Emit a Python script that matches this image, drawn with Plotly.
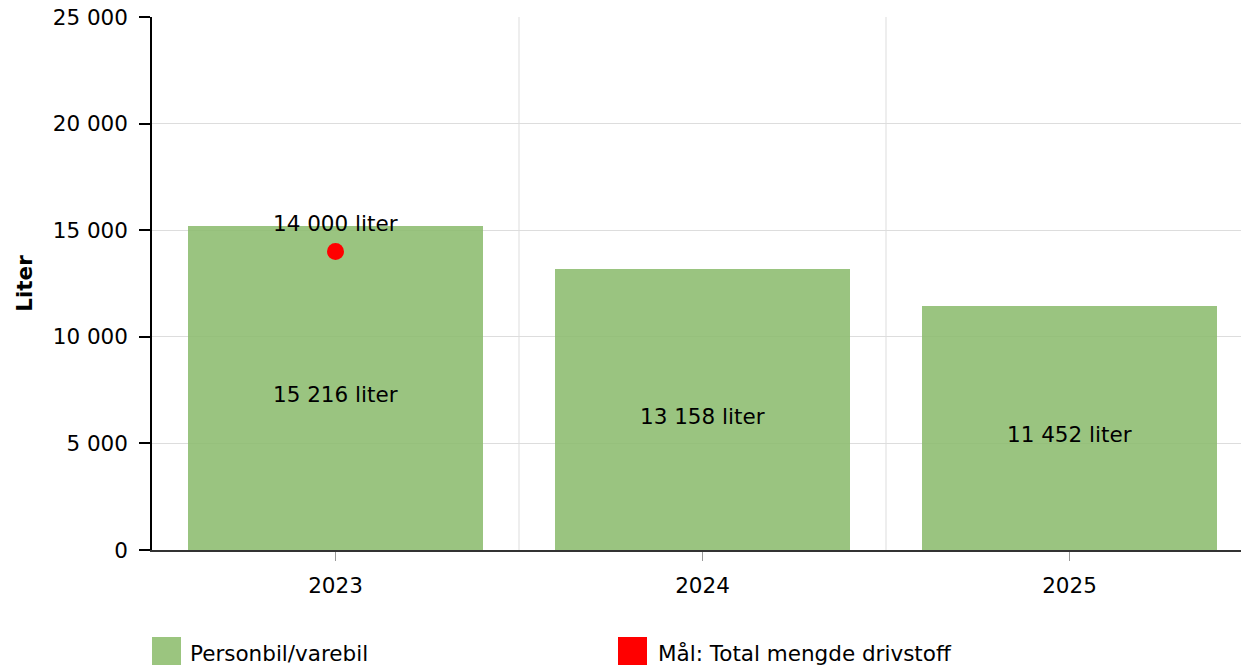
import plotly.graph_objects as go

years = ["2023", "2024", "2025"]
volumes = [15216, 13158, 11452]
target_year = ["2023"]
target_values = [14000]
series_names = ["Personbil/varebil", "Mål: Total mengde drivstoff"]
y_ticks = [0, 5000, 10000, 15000, 20000, 25000]

FONT = "Verdana, DejaVu Sans, sans-serif"
FS = 21.5
BAR_FILL = "rgba(140,188,110,0.88)"
LEGEND_GREEN = "#9BC57F"
RED = "#FF0000"

def fmt(v):
    return f"{v:,.0f}".replace(",", " ") + " liter"

xpos = list(range(len(years)))
tx = [years.index(y) for y in target_year]

fig = go.Figure()
fig.add_trace(go.Bar(
    x=xpos, y=volumes, width=0.804,
    marker=dict(color=BAR_FILL, line=dict(width=0)),
    textposition="none",
    name=series_names[0], showlegend=False,
))
fig.add_trace(go.Scatter(
    x=tx, y=target_values, mode="markers",
    marker=dict(color=RED, size=17),
    name=series_names[1], showlegend=False, cliponaxis=False,
))

annotations = []
for x, v in zip(xpos, volumes):
    annotations.append(dict(xref="x", yref="y", x=x, y=v / 2, text=fmt(v), showarrow=False,
                            xanchor="center", yanchor="middle", yshift=-7,
                            font=dict(family=FONT, size=FS, color="black")))
for x, v in zip(tx, target_values):
    annotations.append(dict(xref="x", yref="y", x=x, y=v, text=fmt(v), showarrow=False,
                            xanchor="center", yanchor="middle", yshift=28,
                            font=dict(family=FONT, size=FS, color="black")))

shapes = []
# vertical gridlines at category boundaries
for i in range(len(years) - 1):
    shapes.append(dict(type="line", xref="x", yref="paper", x0=i + 0.5, x1=i + 0.5,
                       y0=0, y1=1, line=dict(color="#DDDDDD", width=1), layer="below"))

# custom legend
W, H = 1101.0, 533.0
def px_x(p):
    return (p - 152) / W
def px_y(p):
    return (550 - p) / H

legend_items = [(series_names[0], LEGEND_GREEN, 152, 188), (series_names[1], RED, 618, 656)]
for name, col, sx, tx_ in legend_items:
    shapes.append(dict(type="rect", xref="paper", yref="paper",
                       x0=px_x(sx), x1=px_x(sx + 29), y0=px_y(668), y1=px_y(637),
                       fillcolor=col, line=dict(width=0)))
    annotations.append(dict(xref="paper", yref="paper", x=px_x(tx_), y=px_y(653),
                            text=name, showarrow=False, xanchor="left", yanchor="middle",
                            font=dict(family=FONT, size=FS, color="black")))

fig.update_layout(
    width=1253, height=665,
    margin=dict(l=152, r=0, t=17, b=115, pad=0),
    plot_bgcolor="white", paper_bgcolor="white",
    separators=", ",
    font=dict(family=FONT, size=FS, color="black"),
    showlegend=False,
    shapes=shapes, annotations=annotations,
    bargap=0,
)
fig.update_xaxes(
    range=[-0.5, len(years) - 0.5],
    tickmode="array", tickvals=xpos, ticktext=years,
    showgrid=False, zeroline=False,
    showline=True, linecolor="#333333", linewidth=1.5,
    ticks="outside", ticklen=9, tickcolor="#999999", tickwidth=1,
    ticklabelstandoff=6,
    tickfont=dict(family=FONT, size=FS, color="black"),
)
fig.update_yaxes(
    range=[0, 25000], tickmode="array", tickvals=y_ticks,
    tickformat=",.0f",
    showgrid=True, gridcolor="#DDDDDD", gridwidth=1, zeroline=False,
    showline=True, linecolor="black", linewidth=1.5,
    ticks="outside", ticklen=11, tickcolor="black", tickwidth=1.5,
    ticklabelstandoff=7,
    tickfont=dict(family=FONT, size=FS, color="black"),
    title=dict(text="<b>Liter</b>", font=dict(family=FONT, size=FS, color="black"), standoff=14),
)

fig.write_html("out.html", config={"displayModeBar": False},
               post_script="document.body.style.margin='0';document.body.style.padding='0';document.documentElement.style.overflow='hidden';document.body.style.overflow='hidden';")
